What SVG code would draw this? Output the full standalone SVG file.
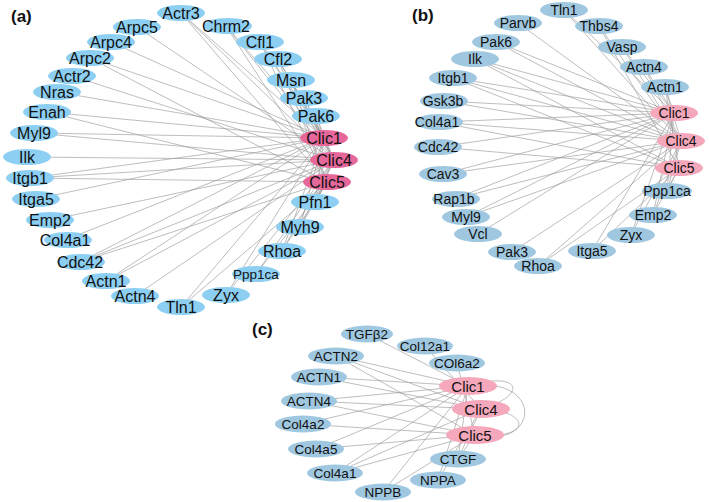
<svg xmlns="http://www.w3.org/2000/svg" width="709" height="502" viewBox="0 0 709 502">
<style>
text{font-family:"Liberation Sans",Arial,sans-serif;fill:#111;text-anchor:middle}
.lab{font-weight:bold;font-size:17px;text-anchor:start}
.e line,.e path{stroke:#9a9a9a;stroke-width:0.65;fill:none}
.a ellipse{fill:#8ccff2}
.a ellipse.p{fill:#e6679a}
.a text{font-size:16px}
.b ellipse{fill:#9fc8e0}
.b ellipse.p{fill:#f5a7bb}
.b text{font-size:14px}
.c ellipse{fill:#9fc8e0}
.c ellipse.p{fill:#f5a7bb}
.c text{font-size:13.5px}
</style>
<rect width="709" height="502" fill="#fff"/>
<text class="lab" x="11" y="22">(a)</text>
<text class="lab" x="412" y="21">(b)</text>
<text class="lab" x="252" y="335">(c)</text>

<g id="edges-a" class="e">
<line x1="181" y1="13" x2="324" y2="138"/><line x1="181" y1="13" x2="334" y2="160"/><line x1="181" y1="13" x2="327" y2="182"/>
<line x1="137" y1="27" x2="334" y2="160"/>
<line x1="111" y1="42" x2="324" y2="138"/>
<line x1="90" y1="58" x2="324" y2="138"/><line x1="90" y1="58" x2="327" y2="182"/>
<line x1="72" y1="76" x2="334" y2="160"/>
<line x1="57" y1="92" x2="324" y2="138"/>
<line x1="47" y1="112" x2="324" y2="138"/><line x1="47" y1="112" x2="327" y2="182"/>
<line x1="34" y1="133" x2="324" y2="138"/><line x1="34" y1="133" x2="334" y2="160"/>
<line x1="27" y1="157" x2="334" y2="160"/>
<line x1="30" y1="178" x2="324" y2="138"/><line x1="30" y1="178" x2="334" y2="160"/><line x1="30" y1="178" x2="327" y2="182"/>
<line x1="36" y1="199" x2="324" y2="138"/>
<line x1="50" y1="220" x2="334" y2="160"/>
<line x1="65" y1="240" x2="324" y2="138"/>
<line x1="80" y1="262" x2="324" y2="138"/><line x1="80" y1="262" x2="334" y2="160"/><line x1="80" y1="262" x2="327" y2="182"/>
<line x1="106" y1="281" x2="324" y2="138"/><line x1="106" y1="281" x2="334" y2="160"/>
<line x1="135" y1="296" x2="334" y2="160"/>
<line x1="181" y1="307" x2="324" y2="138"/><line x1="181" y1="307" x2="327" y2="182"/>
<line x1="226" y1="295" x2="324" y2="138"/><line x1="226" y1="295" x2="334" y2="160"/>
<line x1="256" y1="274" x2="334" y2="160"/><line x1="256" y1="274" x2="327" y2="182"/>
<line x1="282" y1="251" x2="324" y2="138"/><line x1="282" y1="251" x2="334" y2="160"/><line x1="282" y1="251" x2="327" y2="182"/>
<line x1="300" y1="227" x2="324" y2="138"/><line x1="300" y1="227" x2="334" y2="160"/><line x1="300" y1="227" x2="327" y2="182"/>
<line x1="315" y1="202" x2="324" y2="138"/><line x1="315" y1="202" x2="334" y2="160"/><line x1="315" y1="202" x2="327" y2="182"/>
<line x1="226" y1="26" x2="324" y2="138"/><line x1="226" y1="26" x2="334" y2="160"/><line x1="226" y1="26" x2="327" y2="182"/>
<line x1="260" y1="42" x2="324" y2="138"/><line x1="260" y1="42" x2="334" y2="160"/><line x1="260" y1="42" x2="327" y2="182"/>
<line x1="278" y1="59" x2="324" y2="138"/><line x1="278" y1="59" x2="334" y2="160"/><line x1="278" y1="59" x2="327" y2="182"/>
<line x1="291" y1="80" x2="324" y2="138"/><line x1="291" y1="80" x2="334" y2="160"/><line x1="291" y1="80" x2="327" y2="182"/>
<line x1="304" y1="98" x2="324" y2="138"/><line x1="304" y1="98" x2="334" y2="160"/>
<line x1="316" y1="116" x2="324" y2="138"/><line x1="316" y1="116" x2="334" y2="160"/>
</g>

<g class="a">
<g id="a-Actr3"><ellipse cx="181" cy="13" rx="24" ry="8"/><text x="181" y="18.5">Actr3</text></g>
<g id="a-Arpc5"><ellipse cx="137" cy="27" rx="24" ry="8"/><text x="137" y="32.5">Arpc5</text></g>
<g id="a-Arpc4"><ellipse cx="111" cy="42" rx="24" ry="8"/><text x="111" y="47.5">Arpc4</text></g>
<g id="a-Arpc2"><ellipse cx="90" cy="58" rx="24" ry="8"/><text x="90" y="63.5">Arpc2</text></g>
<g id="a-Actr2"><ellipse cx="72" cy="76" rx="24" ry="8"/><text x="72" y="81.5">Actr2</text></g>
<g id="a-Nras"><ellipse cx="57" cy="92" rx="24" ry="8"/><text x="57" y="97.5">Nras</text></g>
<g id="a-Enah"><ellipse cx="47" cy="112" rx="24" ry="8"/><text x="47" y="117.5">Enah</text></g>
<g id="a-Myl9"><ellipse cx="34" cy="133" rx="24" ry="8"/><text x="34" y="138.5">Myl9</text></g>
<g id="a-Ilk"><ellipse cx="27" cy="157" rx="24" ry="8"/><text x="27" y="162.5">Ilk</text></g>
<g id="a-Itgb1"><ellipse cx="30" cy="178" rx="24" ry="8"/><text x="30" y="183.5">Itgb1</text></g>
<g id="a-Itga5"><ellipse cx="36" cy="199" rx="24" ry="8"/><text x="36" y="204.5">Itga5</text></g>
<g id="a-Emp2"><ellipse cx="50" cy="220" rx="24" ry="8"/><text x="50" y="225.5">Emp2</text></g>
<g id="a-Col4a1"><ellipse cx="68" cy="240" rx="24" ry="8"/><text x="65" y="245.5">Col4a1</text></g>
<g id="a-Cdc42"><ellipse cx="81" cy="262" rx="24" ry="8"/><text x="80" y="267.5">Cdc42</text></g>
<g id="a-Actn1"><ellipse cx="106" cy="281" rx="24" ry="8"/><text x="106" y="286.5">Actn1</text></g>
<g id="a-Actn4"><ellipse cx="135" cy="296" rx="24" ry="8"/><text x="135" y="301.5">Actn4</text></g>
<g id="a-Tln1"><ellipse cx="181" cy="307" rx="24" ry="8"/><text x="181" y="312.5">Tln1</text></g>
<g id="a-Zyx"><ellipse cx="226" cy="295" rx="24" ry="8"/><text x="226" y="300.5">Zyx</text></g>
<g id="a-Ppp1ca"><ellipse cx="256" cy="274" rx="24" ry="8"/><text x="256" y="279" style="font-size:13.5px">Ppp1ca</text></g>
<g id="a-Rhoa"><ellipse cx="282" cy="251" rx="24" ry="8"/><text x="282" y="256.5">Rhoa</text></g>
<g id="a-Myh9"><ellipse cx="300" cy="227" rx="24" ry="8"/><text x="300" y="232.5">Myh9</text></g>
<g id="a-Pfn1"><ellipse cx="315" cy="202" rx="24" ry="8"/><text x="315" y="207.5">Pfn1</text></g>
<g id="a-Clic5"><ellipse class="p" cx="327" cy="182" rx="24" ry="8"/><text x="327" y="187.5">Clic5</text></g>
<g id="a-Clic4"><ellipse class="p" cx="334" cy="160" rx="24" ry="8"/><text x="334" y="165.5">Clic4</text></g>
<g id="a-Clic1"><ellipse class="p" cx="324" cy="138" rx="24" ry="8"/><text x="324" y="143.5">Clic1</text></g>
<g id="a-Pak6"><ellipse cx="316" cy="116" rx="24" ry="8"/><text x="316" y="121.5">Pak6</text></g>
<g id="a-Pak3"><ellipse cx="304" cy="98" rx="24" ry="8"/><text x="304" y="103.5">Pak3</text></g>
<g id="a-Msn"><ellipse cx="291" cy="80" rx="24" ry="8"/><text x="291" y="85.5">Msn</text></g>
<g id="a-Cfl2"><ellipse cx="278" cy="59" rx="24" ry="8"/><text x="278" y="64.5">Cfl2</text></g>
<g id="a-Cfl1"><ellipse cx="260" cy="42" rx="24" ry="8"/><text x="260" y="47.5">Cfl1</text></g>
<g id="a-Chrm2"><ellipse cx="228" cy="26" rx="24" ry="8"/><text x="226" y="31.5">Chrm2</text></g>
</g>

<g id="edges-b" class="e">
<line x1="564" y1="10" x2="674" y2="113"/><line x1="564" y1="10" x2="681" y2="141"/>
<line x1="599" y1="26" x2="681" y2="141"/><line x1="599" y1="26" x2="679" y2="168"/>
<line x1="622" y1="47" x2="674" y2="113"/><line x1="622" y1="47" x2="681" y2="141"/>
<line x1="644" y1="67" x2="674" y2="113"/><line x1="644" y1="67" x2="681" y2="141"/>
<line x1="665" y1="87" x2="674" y2="113"/><line x1="665" y1="87" x2="681" y2="141"/><line x1="665" y1="87" x2="679" y2="168"/>
<line x1="518" y1="23" x2="681" y2="141"/>
<line x1="496" y1="42" x2="674" y2="113"/><line x1="496" y1="42" x2="681" y2="141"/>
<line x1="475" y1="59" x2="674" y2="113"/><line x1="475" y1="59" x2="681" y2="141"/><line x1="475" y1="59" x2="679" y2="168"/>
<line x1="453" y1="78" x2="674" y2="113"/><line x1="453" y1="78" x2="681" y2="141"/><line x1="453" y1="78" x2="679" y2="168"/>
<line x1="443" y1="101" x2="674" y2="113"/><line x1="443" y1="101" x2="681" y2="141"/>
<line x1="437" y1="122" x2="674" y2="113"/><line x1="437" y1="122" x2="681" y2="141"/><line x1="437" y1="122" x2="679" y2="168"/>
<line x1="438" y1="147" x2="674" y2="113"/><line x1="438" y1="147" x2="679" y2="168"/>
<line x1="443" y1="174" x2="674" y2="113"/><line x1="443" y1="174" x2="681" y2="141"/>
<line x1="454" y1="199" x2="674" y2="113"/><line x1="454" y1="199" x2="681" y2="141"/>
<line x1="466" y1="217" x2="674" y2="113"/><line x1="466" y1="217" x2="681" y2="141"/>
<line x1="478" y1="234" x2="674" y2="113"/>
<line x1="512" y1="252" x2="681" y2="141"/>
<line x1="538" y1="266" x2="681" y2="141"/><line x1="538" y1="266" x2="679" y2="168"/>
<line x1="592" y1="251" x2="674" y2="113"/><line x1="592" y1="251" x2="679" y2="168"/>
<line x1="631" y1="235" x2="674" y2="113"/><line x1="631" y1="235" x2="681" y2="141"/>
<line x1="653" y1="215" x2="674" y2="113"/><line x1="653" y1="215" x2="681" y2="141"/><line x1="653" y1="215" x2="679" y2="168"/>
<line x1="667" y1="191" x2="674" y2="113"/><line x1="667" y1="191" x2="681" y2="141"/><line x1="667" y1="191" x2="679" y2="168"/>
</g>

<g class="b">
<g id="b-Tln1"><ellipse cx="564" cy="10" rx="24" ry="8"/><text x="564" y="15">Tln1</text></g>
<g id="b-Thbs4"><ellipse cx="599" cy="26" rx="24" ry="8"/><text x="599" y="31">Thbs4</text></g>
<g id="b-Vasp"><ellipse cx="622" cy="47" rx="24" ry="8"/><text x="622" y="52">Vasp</text></g>
<g id="b-Actn4"><ellipse cx="644" cy="67" rx="24" ry="8"/><text x="644" y="72">Actn4</text></g>
<g id="b-Actn1"><ellipse cx="665" cy="87" rx="24" ry="8"/><text x="665" y="92">Actn1</text></g>
<g id="b-Clic1"><ellipse class="p" cx="674" cy="113" rx="24" ry="8"/><text x="674" y="118">Clic1</text></g>
<g id="b-Clic4"><ellipse class="p" cx="681" cy="141" rx="24" ry="8"/><text x="681" y="146">Clic4</text></g>
<g id="b-Clic5"><ellipse class="p" cx="679" cy="168" rx="24" ry="8"/><text x="679" y="173">Clic5</text></g>
<g id="b-Ppp1ca"><ellipse cx="667" cy="191" rx="25" ry="8"/><text x="667" y="196">Ppp1ca</text></g>
<g id="b-Emp2"><ellipse cx="653" cy="215" rx="24" ry="8"/><text x="653" y="220">Emp2</text></g>
<g id="b-Zyx"><ellipse cx="631" cy="235" rx="24" ry="8"/><text x="631" y="240">Zyx</text></g>
<g id="b-Itga5"><ellipse cx="592" cy="251" rx="24" ry="8"/><text x="592" y="256">Itga5</text></g>
<g id="b-Rhoa"><ellipse cx="538" cy="266" rx="24" ry="8"/><text x="538" y="271">Rhoa</text></g>
<g id="b-Pak3"><ellipse cx="512" cy="252" rx="24" ry="8"/><text x="512" y="257">Pak3</text></g>
<g id="b-Vcl"><ellipse cx="478" cy="234" rx="24" ry="8"/><text x="478" y="239">Vcl</text></g>
<g id="b-Myl9"><ellipse cx="466" cy="217" rx="24" ry="8"/><text x="466" y="222">Myl9</text></g>
<g id="b-Rap1b"><ellipse cx="456" cy="199" rx="24" ry="8"/><text x="454" y="204">Rap1b</text></g>
<g id="b-Cav3"><ellipse cx="443" cy="174" rx="24" ry="8"/><text x="443" y="179">Cav3</text></g>
<g id="b-Cdc42"><ellipse cx="438" cy="147" rx="24" ry="8"/><text x="438" y="152">Cdc42</text></g>
<g id="b-Col4a1"><ellipse cx="439" cy="122" rx="24" ry="8"/><text x="437" y="127">Col4a1</text></g>
<g id="b-Gsk3b"><ellipse cx="444" cy="101" rx="24" ry="8"/><text x="443" y="106">Gsk3b</text></g>
<g id="b-Itgb1"><ellipse cx="453" cy="78" rx="24" ry="8"/><text x="453" y="83">Itgb1</text></g>
<g id="b-Ilk"><ellipse cx="475" cy="59" rx="24" ry="8"/><text x="475" y="64">Ilk</text></g>
<g id="b-Pak6"><ellipse cx="496" cy="42" rx="24" ry="8"/><text x="496" y="47">Pak6</text></g>
<g id="b-Parvb"><ellipse cx="518" cy="23" rx="24" ry="8"/><text x="518" y="28">Parvb</text></g>
</g>

<g id="edges-c" class="e">
<line x1="367" y1="334" x2="468" y2="386"/>
<line x1="425" y1="346" x2="481" y2="409"/>
<line x1="457" y1="363" x2="475" y2="435"/>
<line x1="336" y1="356" x2="468" y2="386"/><line x1="336" y1="356" x2="481" y2="409"/><line x1="336" y1="356" x2="475" y2="435"/>
<line x1="319" y1="377" x2="468" y2="386"/><line x1="319" y1="377" x2="481" y2="409"/>
<line x1="309" y1="401" x2="468" y2="386"/><line x1="309" y1="401" x2="481" y2="409"/><line x1="309" y1="401" x2="475" y2="435"/>
<line x1="303" y1="424" x2="468" y2="386"/><line x1="303" y1="424" x2="475" y2="435"/>
<line x1="316" y1="449" x2="468" y2="386"/><line x1="316" y1="449" x2="475" y2="435"/>
<line x1="335" y1="473" x2="468" y2="386"/><line x1="335" y1="473" x2="481" y2="409"/><line x1="335" y1="473" x2="475" y2="435"/>
<line x1="383" y1="492" x2="468" y2="386"/><line x1="383" y1="492" x2="475" y2="435"/>
<line x1="438" y1="480" x2="468" y2="386"/><line x1="438" y1="480" x2="481" y2="409"/>
<line x1="458" y1="459" x2="468" y2="386"/><line x1="458" y1="459" x2="481" y2="409"/><line x1="458" y1="459" x2="475" y2="435"/>
<path d="M468,386 C520,370 530,395 481,409"/>
<path d="M481,409 C530,410 535,440 475,435"/>
<path d="M468,386 C545,375 540,450 475,435"/>
</g>

<g class="c">
<g id="c-TGFb2"><ellipse cx="367" cy="334" rx="26" ry="8.5"/><text x="367" y="339">TGFβ2</text></g>
<g id="c-Col12a1"><ellipse cx="425" cy="346" rx="28" ry="8.5"/><text x="425" y="351">Col12a1</text></g>
<g id="c-COl6a2"><ellipse cx="457" cy="363" rx="28" ry="8.5"/><text x="457" y="368">COl6a2</text></g>
<g id="c-Clic1"><ellipse class="p" cx="468" cy="386" rx="29" ry="9"/><text x="468" y="391.5" style="font-size:15px">Clic1</text></g>
<g id="c-Clic4"><ellipse class="p" cx="481" cy="409" rx="29" ry="9"/><text x="481" y="414.5" style="font-size:15px">Clic4</text></g>
<g id="c-Clic5"><ellipse class="p" cx="475" cy="435" rx="29" ry="9"/><text x="475" y="440.5" style="font-size:15px">Clic5</text></g>
<g id="c-CTGF"><ellipse cx="458" cy="459" rx="28" ry="8.5"/><text x="458" y="464">CTGF</text></g>
<g id="c-NPPA"><ellipse cx="438" cy="480" rx="28" ry="8.5"/><text x="438" y="485">NPPA</text></g>
<g id="c-NPPB"><ellipse cx="383" cy="492" rx="28" ry="8.5"/><text x="383" y="497">NPPB</text></g>
<g id="c-Col4a1"><ellipse cx="335" cy="473" rx="28" ry="8.5"/><text x="335" y="478">Col4a1</text></g>
<g id="c-Col4a5"><ellipse cx="316" cy="449" rx="28" ry="8.5"/><text x="316" y="454">Col4a5</text></g>
<g id="c-Col4a2"><ellipse cx="303" cy="424" rx="28" ry="8.5"/><text x="303" y="429">Col4a2</text></g>
<g id="c-ACTN4"><ellipse cx="309" cy="401" rx="28" ry="8.5"/><text x="309" y="406">ACTN4</text></g>
<g id="c-ACTN1"><ellipse cx="319" cy="377" rx="28" ry="8.5"/><text x="319" y="382">ACTN1</text></g>
<g id="c-ACTN2"><ellipse cx="336" cy="356" rx="28" ry="8.5"/><text x="336" y="361">ACTN2</text></g>
</g>
</svg>
